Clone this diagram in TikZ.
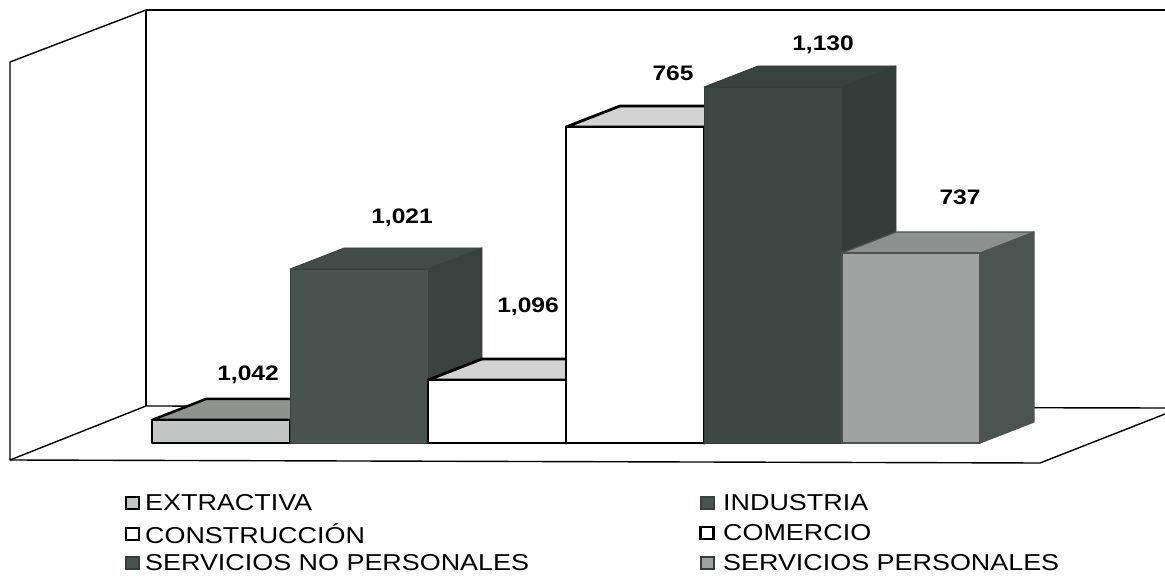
\documentclass[tikz,border=0pt]{standalone}
\usepackage{fontspec}
\setmainfont{Liberation Sans}[FakeStretch=1.17]
\definecolor{extF}{HTML}{C4C6C5}
\definecolor{extT}{HTML}{8E9390}
\definecolor{indF}{HTML}{4B5351}
\definecolor{indT}{HTML}{434B49}
\definecolor{indS}{HTML}{3A4240}
\definecolor{conT}{HTML}{D2D3D2}
\definecolor{snpF}{HTML}{3F4745}
\definecolor{snpT}{HTML}{3A4240}
\definecolor{snpS}{HTML}{353D3B}
\definecolor{spF}{HTML}{A0A2A1}
\definecolor{spT}{HTML}{8C908E}
\definecolor{spS}{HTML}{4C5452}
\newcommand\drawbar[7]{%
  \filldraw[fill=#5,draw=#6,line width=#7,line join=round] (#1+138,133) -- (#1+192,154) -- (#1+192,#2+21) -- (#1+138,#2) -- cycle;
  \filldraw[fill=#4,draw=#6,line width=#7,line join=round] (#1,#2) -- (#1+54,#2+21) -- (#1+192,#2+21) -- (#1+138,#2) -- cycle;
  \filldraw[fill=#3,draw=#6,line width=#7,line join=round] (#1,133) rectangle (#1+138,#2);
}
\tikzset{
  wall/.style={draw=black,line width=1.4pt,line join=round},
  val/.style={font=\bfseries\fontsize{21}{24}\selectfont,inner sep=0pt},
  leg/.style={font=\fontsize{23}{26}\selectfont,anchor=west,inner sep=0pt},
  mk/.style={minimum width=13pt,minimum height=12pt,inner sep=0pt,line width=2pt}
}
\begin{document}
\begin{tikzpicture}[x=1pt,y=1pt]
\useasboundingbox (0,0) rectangle (1165,576);
\fill[white] (0,0) rectangle (1165,576);
% walls and floor
\draw[wall] (146,566) -- (1165,566);
\draw[wall] (146,566) -- (146,170);
\draw[wall] (146,566) -- (10,514) -- (10,116) -- (146,170);
\draw[wall] (146,170) -- (1165,168);
\draw[wall] (10,116) -- (1040,113) -- (1165,162);
% bars
\drawbar{152}{156}{extF}{extT}{extT}{black}{2.5pt}
\drawbar{290}{307}{indF}{indT}{indS}{indS}{0.8pt}
\drawbar{428}{196}{white}{conT}{conT}{black}{2.8pt}
\drawbar{566}{449}{white}{conT}{conT}{black}{2.8pt}
\drawbar{704}{489}{snpF}{snpT}{snpS}{snpS}{0.8pt}
\drawbar{842}{323}{spF}{spT}{spS}{spS}{1.2pt}
% value labels
\node[val] (v1) at (248,201) {1,042};
\node[val] (v2) at (402,358) {1,021};
\node[val] (v3) at (528,269) {1,096};
\node[val] (v4) at (673,503) {765};
\node[val] (v5) at (823,531) {1,130};
\node[val] (v6) at (960,379) {737};
% legend
\node[mk,draw=black,fill=extF] (m1) at (132,73) {};
\node[leg] (l1) at (145,73) {EXTRACTIVA};
\node[mk,draw=black,fill=white] (m2) at (132,42) {};
\node[leg] (l2) at (145,42) {CONSTRUCCIÓN};
\node[mk,draw=snpS,fill=indF] (m3) at (132,13) {};
\node[leg] (l3) at (145,13) {SERVICIOS NO PERSONALES};
\node[mk,draw=indS,fill=indF] (m4) at (707,73) {};
\node[leg] (l4) at (723,73) {INDUSTRIA};
\node[mk,draw=black,fill=white,line width=2.6pt] (m5) at (707,43) {};
\node[leg] (l5) at (723,43) {COMERCIO};
\node[mk,draw=snpS,fill=spF] (m6) at (707,13) {};
\node[leg] (l6) at (723,13) {SERVICIOS PERSONALES};
\end{tikzpicture}
\end{document}
